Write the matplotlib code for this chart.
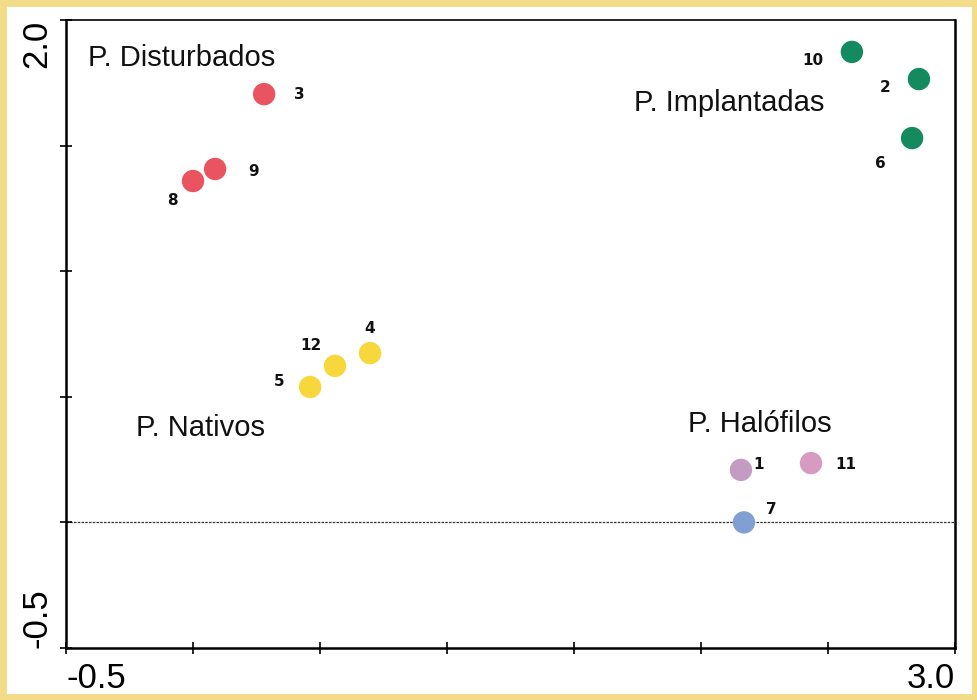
import matplotlib
matplotlib.use("Agg")
import matplotlib.pyplot as plt
from matplotlib.patches import Rectangle

plt.rcParams["font.family"] = ["Liberation Sans", "DejaVu Sans"]

# ordination scores of the twelve sites
site_ids = ["1", "2", "3", "4", "5", "6", "7", "8", "9", "10", "11", "12"]
axis1 = [2.157, 2.858, 0.280, 0.697, 0.461, 2.831, 2.169, 0.000, 0.087, 2.594, 2.433, 0.559]
axis2 = [0.209, 1.765, 1.705, 0.674, 0.539, 1.530, 0.000, 1.359, 1.407, 1.873, 0.236, 0.623]
site_colors = ["#c39cc4", "#138a60", "#ea5360", "#f8d73c", "#f8d73c", "#138a60",
               "#819fd2", "#ea5360", "#ea5360", "#138a60", "#d79ac0", "#f8d73c"]
# label offsets in points
label_dx = [13, -24, 25, 0, -22, -23, 20, -15, 28, -28, 25, -17]
label_dy = [4, -6, 0, 18, 4, -18, 9, -14, -2, -6, -1, 15]

group_names = ["P. Disturbados", "P. Implantadas", "P. Nativos", "P. Halófilos"]
group_x = [-0.413, 1.736, -0.224, 1.949]
group_y = [1.849, 1.670, 0.376, 0.392]

fig = plt.figure(figsize=(9.78, 7.0), dpi=100)
border = Rectangle((0.003, 0.004), 0.994, 0.992, transform=fig.transFigure,
                   fill=False, edgecolor="#f3dc88", linewidth=5, zorder=-1)
fig.patches.append(border)
ax = fig.add_axes([0.0675, 0.0743, 0.909, 0.8971])

ax.axhline(0.0, color="#333333", lw=0.9, ls=(0, (2, 1)), zorder=1)
ax.scatter(axis1, axis2, s=260, c=site_colors, edgecolors="none", zorder=3)

for sid, x, y, dx, dy in zip(site_ids, axis1, axis2, label_dx, label_dy):
    ax.annotate(sid, (x, y), xytext=(dx, dy), textcoords="offset points",
                ha="center", va="center", fontsize=11, fontweight="heavy",
                family="DejaVu Sans", color="#111111")

for name, x, y in zip(group_names, group_x, group_y):
    ax.text(x, y, name, ha="left", va="center", fontsize=21, color="#111111")

ax.set_xlim(-0.5, 3.0)
ax.set_ylim(-0.5, 2.0)
xt = [-0.5, 0.0, 0.5, 1.0, 1.5, 2.0, 2.5, 3.0]
yt = [-0.5, 0.0, 0.5, 1.0, 1.5, 2.0]
ax.set_xticks(xt)
ax.set_xticklabels(["-0.5", "", "", "", "", "", "", "3.0"])
ax.set_yticks(yt)
ax.set_yticklabels(["-0.5", "", "", "", "", "2.0"], rotation=90, va="center")
ax.tick_params(direction="inout", length=8, width=1.2, labelsize=25)
ax.tick_params(axis="x", pad=6)
ax.tick_params(axis="y", pad=5)
ax.get_xticklabels()[0].set_ha("left")
ax.get_xticklabels()[-1].set_ha("right")
ax.get_yticklabels()[0].set_va("bottom")
ax.get_yticklabels()[-1].set_va("top")
for side in ["left", "bottom", "right"]:
    ax.spines[side].set_linewidth(1.8)
ax.spines["top"].set_linewidth(1.2)

fig.savefig("out.png", dpi=100)
